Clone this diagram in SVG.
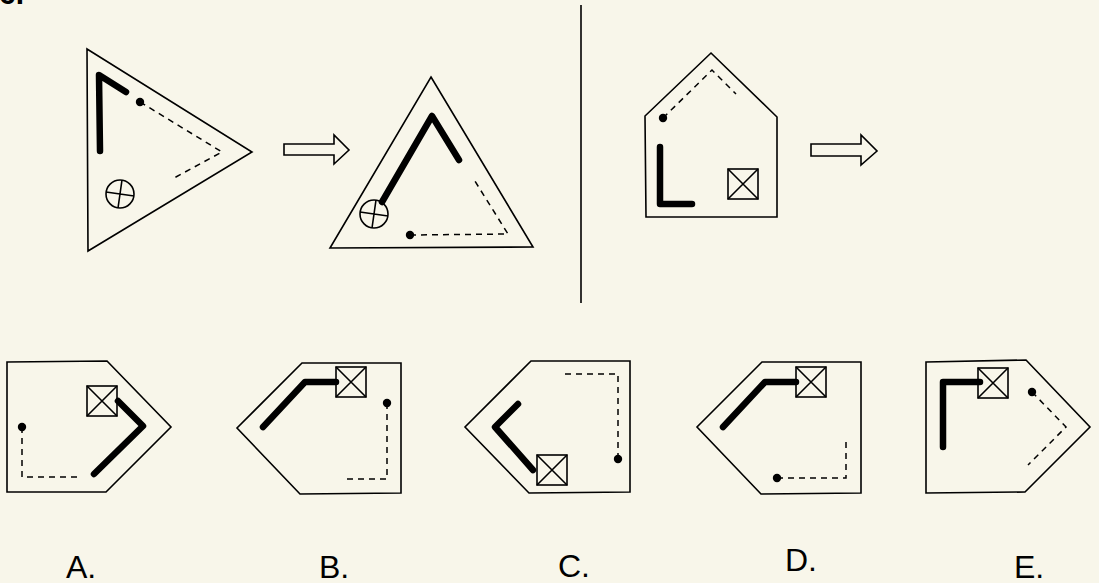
<svg xmlns="http://www.w3.org/2000/svg" width="1099" height="583" viewBox="0 0 1099 583">
<defs>
<style>
.o{fill:none;stroke:#000;stroke-width:1.6;stroke-linejoin:miter}
.t{fill:none;stroke:#000;stroke-width:6.5;stroke-linecap:round;stroke-linejoin:round}
.d{fill:none;stroke:#000;stroke-width:1.5;stroke-dasharray:6,5}
.dot{fill:#000}
.lbl{font-family:"Liberation Sans",Arial,sans-serif;font-size:32px;fill:#000}
</style>
<g id="xbox"><rect x="0" y="0" width="30" height="30" class="o"/><path d="M0 0L30 30M30 0L0 30" class="o" stroke-width="1.2"/></g>
<g id="ocross"><circle cx="0" cy="0" r="14" class="o"/><path d="M-14 -2L14 2M2 -14L-2 14" class="o" stroke-width="1.3"/></g>
</defs>
<rect width="1099" height="583" fill="#f8f6ea"/>
<text x="-1" y="4" font-family="Liberation Sans,Arial,sans-serif" font-weight="bold" font-size="30">6.</text>
<g id="divider"><line x1="581" y1="5" x2="581" y2="303" stroke="#000" stroke-width="1.6"/></g>
<g id="tri1">
<polygon points="87,49 252,152 88,251" class="o"/>
<polyline points="100,151 99,75 126,92" class="t"/>
<circle cx="140" cy="102" r="4.2" class="dot"/>
<polyline points="140,102 222,152 174,178" class="d"/>
<use href="#ocross" x="120" y="194"/>
</g>
<g id="arrow1"><polygon points="284,144 334,144 334,135 349,150 334,164 334,155 284,155" class="o"/></g>
<g id="tri2">
<polygon points="431,77 533,247 330,248" class="o"/>
<polyline points="382,202 432,116 459,160" class="t"/>
<circle cx="410" cy="235" r="4.2" class="dot"/>
<polyline points="410,235 508,234 473,178" class="d"/>
<use href="#ocross" x="374" y="214"/>
</g>
<g id="house">
<polygon points="711,53 777,117 777,217 646,217 645,116" class="o"/>
<circle cx="663" cy="118" r="4.2" class="dot"/>
<polyline points="663,118 712,70 736,94" class="d"/>
<polyline points="660,147 660,204 692,204" class="t"/>
<use href="#xbox" x="728" y="169"/>
</g>
<g id="arrow2"><polygon points="811,144 861,144 861,135 877,151 861,165 861,156 811,156" class="o"/></g>
<g id="optA">
<polygon points="7,362 107,361 171,427 106,492 7,492" class="o"/>
<polyline points="118,401 143,426 94,474" class="t"/>
<use href="#xbox" x="87" y="386"/>
<circle cx="22" cy="427" r="4.2" class="dot"/>
<polyline points="22,427 22,477 78,477" class="d"/>
</g>
<g id="optB">
<polygon points="302,363 401,363 401,493 300,494 237,428" class="o"/>
<polyline points="263,427 305,382 336,382" class="t"/>
<use href="#xbox" x="336" y="367"/>
<circle cx="387" cy="403" r="4.2" class="dot"/>
<polyline points="387,403 387,479 347,479" class="d"/>
</g>
<g id="optC">
<polygon points="531,361 630,361 630,492 529,493 465,427" class="o"/>
<polyline points="518,404 495,427 533,470" class="t"/>
<use href="#xbox" x="537" y="455"/>
<circle cx="618" cy="459" r="4.2" class="dot"/>
<polyline points="618,459 618,374 561,374" class="d"/>
</g>
<g id="optD">
<polygon points="762,362 861,362 861,493 761,494 697,427" class="o"/>
<polyline points="723,427 765,382 796,382" class="t"/>
<use href="#xbox" x="796" y="367"/>
<circle cx="777" cy="478" r="4.2" class="dot"/>
<polyline points="777,478 846,478 846,442" class="d"/>
</g>
<g id="optE">
<polygon points="926,362 1026,360 1090,427 1025,492 926,493" class="o"/>
<polyline points="943,447 943,382 980,382" class="t"/>
<use href="#xbox" x="978" y="368"/>
<circle cx="1032" cy="392" r="4.2" class="dot"/>
<polyline points="1032,392 1066,427 1028,465" class="d"/>
</g>
<g id="labels">
<text class="lbl" x="66" y="578">A.</text>
<text class="lbl" x="319" y="578">B.</text>
<text class="lbl" x="558" y="577">C.</text>
<text class="lbl" x="785" y="571">D.</text>
<text class="lbl" x="1014" y="578">E.</text>
</g>
</svg>
